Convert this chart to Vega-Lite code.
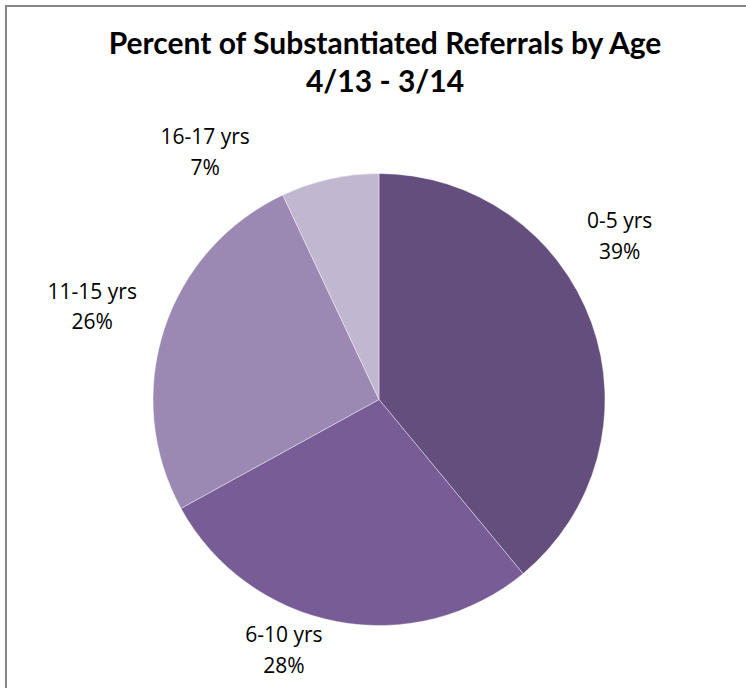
{
  "$schema": "https://vega.github.io/schema/vega-lite/v6.json",
  "width": 746,
  "height": 787,
  "autosize": {"type": "none"},
  "padding": {"left": 6, "top": 6, "right": 0, "bottom": 0},
  "background": "#ffffff",
  "view": {"stroke": "#878787", "strokeWidth": 2, "fill": "#ffffff"},
  "config": {
    "view": {"stroke": "#878787", "strokeWidth": 2},
    "font": "Open Sans"
  },
  "title": {
    "text": ["Percent of Substantiated Referrals by Age", "4/13 - 3/14"],
    "frame": "group",
    "anchor": "middle",
    "orient": "top",
    "baseline": "top",
    "offset": -92,
    "dx": 6,
    "fontSize": 30,
    "lineHeight": 38,
    "fontWeight": "bold",
    "font": "Lato",
    "color": "#000000"
  },
  "data": {
    "values": [
      {"age": "0-5 yrs", "pct": 39, "rank": 1},
      {"age": "6-10 yrs", "pct": 28, "rank": 2},
      {"age": "11-15 yrs", "pct": 26, "rank": 3},
      {"age": "16-17 yrs", "pct": 7, "rank": 4}
    ]
  },
  "transform": [
    {"stack": "pct", "groupby": [], "sort": [{"field": "rank", "order": "ascending"}], "as": ["p0", "p1"]},
    {"calculate": "(datum.p0 + datum.p1) / 2", "as": "pmid"},
    {"calculate": "datum.age + '\\n' + datum.pct + '%'", "as": "label"}
  ],
  "layer": [
    {
      "mark": {"type": "arc", "outerRadius": 226, "stroke": "#ffffff", "strokeWidth": 0.4},
      "encoding": {
        "theta": {"field": "p0", "type": "quantitative", "stack": null, "scale": {"domain": [0, 100]}},
        "theta2": {"field": "p1"},
        "color": {
          "field": "age",
          "type": "nominal",
          "sort": null,
          "scale": {
            "domain": ["0-5 yrs", "6-10 yrs", "11-15 yrs", "16-17 yrs"],
            "range": ["#634E7E", "#775C96", "#9B88B3", "#C2B7D1"]
          },
          "legend": null
        }
      }
    },
    {
      "transform": [{"filter": "datum.age === '0-5 yrs'"}],
      "mark": {"type": "text", "radius": 299, "thetaOffset": -0.29, "lineBreak": "\n", "fontSize": 21, "lineHeight": 30.5, "color": "#000000", "font": "Open Sans"},
      "encoding": {
        "theta": {"field": "pmid", "type": "quantitative", "stack": null, "scale": {"domain": [0, 100]}},
        "text": {"field": "label", "type": "nominal"}
      }
    },
    {
      "transform": [{"filter": "datum.age === '6-10 yrs'"}],
      "mark": {"type": "text", "radius": 255, "thetaOffset": 0.194, "lineBreak": "\n", "fontSize": 21, "lineHeight": 30.5, "color": "#000000", "font": "Open Sans"},
      "encoding": {
        "theta": {"field": "pmid", "type": "quantitative", "stack": null, "scale": {"domain": [0, 100]}},
        "text": {"field": "label", "type": "nominal"}
      }
    },
    {
      "transform": [{"filter": "datum.age === '11-15 yrs'"}],
      "mark": {"type": "text", "radius": 306, "thetaOffset": 0.042, "lineBreak": "\n", "fontSize": 21, "lineHeight": 30.5, "color": "#000000", "font": "Open Sans"},
      "encoding": {
        "theta": {"field": "pmid", "type": "quantitative", "stack": null, "scale": {"domain": [0, 100]}},
        "text": {"field": "label", "type": "nominal"}
      }
    },
    {
      "transform": [{"filter": "datum.age === '16-17 yrs'"}],
      "mark": {"type": "text", "radius": 314, "thetaOffset": -0.367, "lineBreak": "\n", "fontSize": 21, "lineHeight": 30.5, "color": "#000000", "font": "Open Sans"},
      "encoding": {
        "theta": {"field": "pmid", "type": "quantitative", "stack": null, "scale": {"domain": [0, 100]}},
        "text": {"field": "label", "type": "nominal"}
      }
    }
  ]
}
